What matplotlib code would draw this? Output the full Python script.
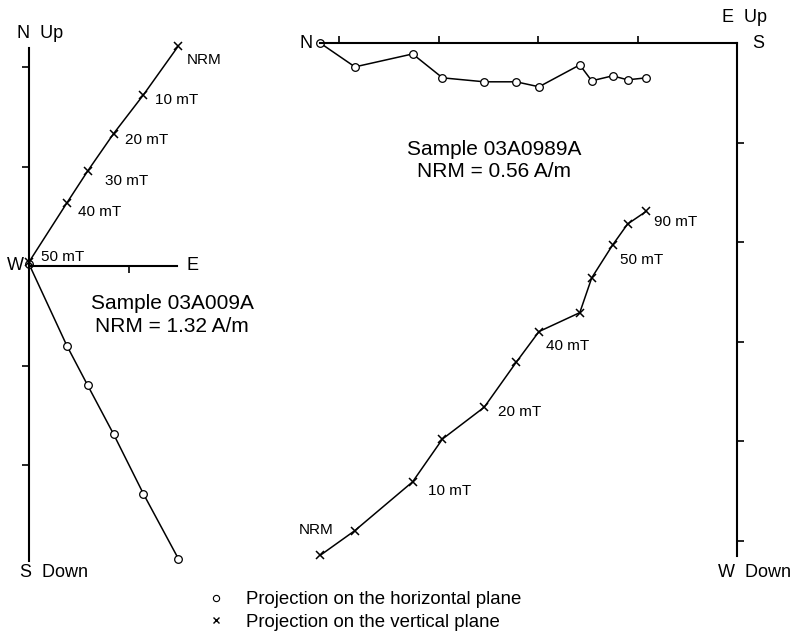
import matplotlib.pyplot as plt
from matplotlib.lines import Line2D

plt.rcParams['font.family'] = ['Liberation Sans', 'DejaVu Sans']

# Sample 03A009A (left diagram): E component, N (horizontal plane), Up (vertical plane)
left_steps = ['NRM', '10 mT', '20 mT', '30 mT', '40 mT', '50 mT']
left_east = [1.50, 1.15, 0.85, 0.59, 0.38, 0.0]
left_north = [-2.94, -2.29, -1.69, -1.20, -0.80, 0.02]
left_up = [2.21, 1.72, 1.33, 0.955, 0.633, 0.04]

# Sample 03A0989A (right diagram): N component, W (horizontal plane), Down (vertical plane)
right_north = [4.19, 3.84, 3.26, 2.96, 2.54, 2.22, 1.99, 1.58, 1.46, 1.25, 1.10, 0.91]
right_west = [0.00, 0.24, 0.11, 0.35, 0.39, 0.39, 0.44, 0.22, 0.38, 0.33, 0.37, 0.35]
right_down = [5.15, 4.90, 4.41, 3.98, 3.66, 3.21, 2.90, 2.71, 2.36, 2.03, 1.82, 1.69]
right_label_idx = [0, 2, 4, 6, 9, 11]
right_labels = ['NRM', '10 mT', '20 mT', '40 mT', '50 mT', '90 mT']

W, H = 795, 633
S = 99.5  # pixels per unit


def place_axes(fig, x0, y0, xlim, ylim):
    # put an axes so that 1 unit = S pixels, origin at pixel (x0, y0) from top-left
    left = x0 + min(xlim[0], xlim[1]) * S if xlim[0] < xlim[1] else x0 - xlim[0] * S
    width = abs(xlim[1] - xlim[0]) * S
    if ylim[0] < ylim[1]:
        top = y0 - ylim[1] * S
    else:
        top = y0 + ylim[1] * S
    height = abs(ylim[1] - ylim[0]) * S
    ax = fig.add_axes([left / W, 1 - (top + height) / H, width / W, height / H])
    ax.set_xlim(*xlim)
    ax.set_ylim(*ylim)
    ax.patch.set_alpha(0)
    return ax


fig = plt.figure(figsize=(7.95, 6.33), dpi=100)

circ = dict(marker='o', markersize=5.5, markerfacecolor='white', markeredgecolor='black',
            markeredgewidth=0.9, color='black', linewidth=1.1)
cross = dict(marker='x', markersize=6, markeredgewidth=1.1, color='black', linewidth=1.1)

# ---- left diagram ----
ax1 = place_axes(fig, 29, 266, (-0.2, 1.8), (-3.2, 2.4))
ax1.spines['left'].set_position(('data', 0))
ax1.spines['bottom'].set_position(('data', 0))
ax1.spines['left'].set_bounds(-2.96, 2.19)
ax1.spines['bottom'].set_bounds(0, 1.49)
for s in ['top', 'right']:
    ax1.spines[s].set_visible(False)
for s in ['left', 'bottom']:
    ax1.spines[s].set_linewidth(1.5)
ax1.set_xticks([1])
ax1.set_yticks([-2, -1, 1, 2])
ax1.tick_params(direction='out', length=5, width=1.2, labelleft=False, labelbottom=False)

ax1.plot(left_east, left_north, **circ)
ax1.plot(left_east, left_up, **cross)

left_offsets = [(8, -14), (12, -5), (11, -6), (17, -10), (11, -9), (12, 5)]
for x, y, lab, off in zip(left_east, left_up, left_steps, left_offsets):
    ax1.annotate(lab, (x, y), xytext=off, textcoords='offset pixels',
                 ha='left', va='center', fontsize=11)

ax1.text(-0.12, 2.34, 'N  Up', ha='left', va='center', fontsize=13)
ax1.text(-0.09, -3.08, 'S  Down', ha='left', va='center', fontsize=13)
ax1.text(-0.05, 0, 'W', ha='right', va='center', fontsize=13)
ax1.text(1.64, 0, 'E', ha='center', va='center', fontsize=13)
ax1.text(1.44, -0.49, 'Sample 03A009A\nNRM = 1.32 A/m', ha='center', va='center',
         fontsize=15, linespacing=1.25)

# ---- right diagram ----
ax2 = place_axes(fig, 737, 43, (4.5, -0.5), (5.6, -0.3))
ax2.spines['top'].set_position(('data', 0))
ax2.spines['right'].set_position(('data', 0))
ax2.spines['top'].set_bounds(0, 4.19)
ax2.spines['right'].set_bounds(0, 5.16)
for s in ['left', 'bottom']:
    ax2.spines[s].set_visible(False)
for s in ['top', 'right']:
    ax2.spines[s].set_linewidth(1.5)
ax2.xaxis.set_ticks_position('top')
ax2.yaxis.set_ticks_position('right')
ax2.set_xticks([1, 2, 3, 4])
ax2.set_yticks([1, 2, 3, 4, 5])
ax2.tick_params(direction='out', length=5, width=1.2, labeltop=False, labelright=False,
                labelbottom=False, labelleft=False)

ax2.plot(right_north, right_west, **circ)
ax2.plot(right_north, right_down, **cross)

right_offsets = [(13, 25), (15, -9), (14, -5), (7, -14), (7, -15), (8, -11)]
for i, lab, off in zip(right_label_idx, right_labels, right_offsets):
    ax2.annotate(lab, (right_north[i], right_down[i]), xytext=off, textcoords='offset pixels',
                 ha='right' if lab == 'NRM' else 'left', va='center', fontsize=11)

ax2.text(0.15, -0.26, 'E  Up', ha='left', va='center', fontsize=13)
ax2.text(-0.21, 0, 'S', ha='center', va='center', fontsize=13)
ax2.text(4.33, 0, 'N', ha='center', va='center', fontsize=13)
ax2.text(0.19, 5.32, 'W  Down', ha='left', va='center', fontsize=13)
ax2.text(2.44, 1.18, 'Sample 03A0989A\nNRM = 0.56 A/m', ha='center', va='center',
         fontsize=15, linespacing=1.25)

# ---- legend ----
handles = [
    Line2D([], [], linestyle='none', marker='o', markersize=4.5, markerfacecolor='white',
           markeredgecolor='black', markeredgewidth=0.8),
    Line2D([], [], linestyle='none', marker='x', markersize=4.5, markeredgewidth=1.0,
           color='black'),
]
fig.legend(handles, ['Projection on the horizontal plane', 'Projection on the vertical plane'],
           loc='upper left', bbox_to_anchor=(206.7 / W, 1 - 591 / H), frameon=False,
           fontsize=13.4, handlelength=1.0, handletextpad=1.1, labelspacing=0.3,
           borderpad=0, borderaxespad=0)

fig.savefig('out.png', dpi=100)
